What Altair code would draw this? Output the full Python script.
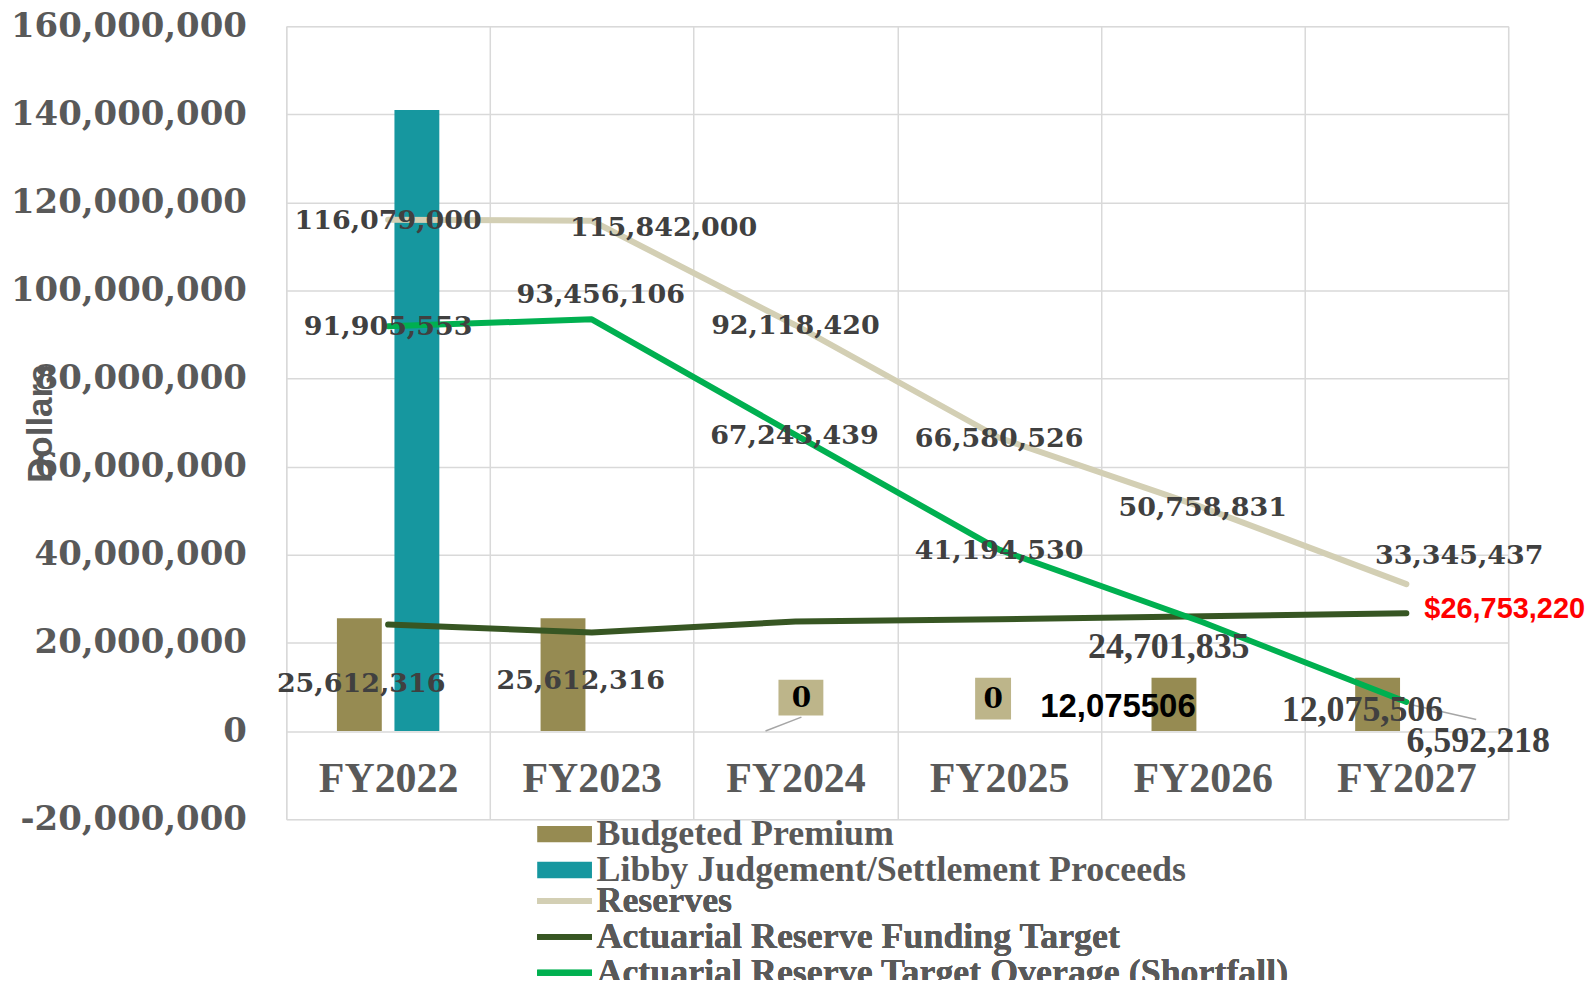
import altair as alt
import pandas as pd

years = ["FY2022", "FY2023", "FY2024", "FY2025", "FY2026", "FY2027"]
budgeted_premium = [25612316, 25612316, 0, 0, 12075506, 12075506]
libby_proceeds = [141000000, 0, 0, 0, 0, 0]
reserves = [116079000, 115842000, 92118420, 66580526, 50758831, 33345437]
funding_target = [24173447, 22385894, 24874981, 25385996, 26056996, 26753220]
overage = [91905553, 93456106, 67243439, 41194530, 24701835, 6592218]

budgeted_text = ["25,612,316", "25,612,316", "0", "0", "12,075506", "12,075,506"]
reserves_text = ["116,079,000", "115,842,000", "92,118,420", "66,580,526", "50,758,831", "33,345,437"]
overage_text = ["91,905,553", "93,456,106", "67,243,439", "41,194,530", "24,701,835", "6,592,218"]
target_text = ["", "", "", "", "", "$26,753,220"]

bar_series = ["Budgeted Premium", "Libby Judgement/Settlement Proceeds"]
line_series = ["Reserves", "Actuarial Reserve Funding Target",
               "Actuarial Reserve Target Overage (Shortfall)"]
bar_colors = ["#968B52", "#16979F"]
line_colors = ["#D3CFB4", "#375623", "#00B050"]
y_ticks = [-20000000, 0, 20000000, 40000000, 60000000, 80000000,
           100000000, 120000000, 140000000, 160000000]

rows = []
for i, yr in enumerate(years):
    rows.append(dict(year=yr, series=bar_series[0], value=budgeted_premium[i], label=budgeted_text[i]))
    rows.append(dict(year=yr, series=bar_series[1], value=libby_proceeds[i], label=""))
    rows.append(dict(year=yr, series=line_series[0], value=reserves[i], label=reserves_text[i]))
    rows.append(dict(year=yr, series=line_series[1], value=funding_target[i], label=target_text[i]))
    rows.append(dict(year=yr, series=line_series[2], value=overage[i], label=overage_text[i]))
df = pd.DataFrame(rows)

xenc = alt.X("year:N", sort=years,
             scale=alt.Scale(paddingInner=0, paddingOuter=0),
             axis=alt.Axis(title=None, labelAngle=0, domain=False, ticks=False,
                           tickBand="extent", grid=True, gridColor="#D9D9D9", gridWidth=1.5,
                           labelFont="Liberation Serif", labelFontSize=42, labelFontWeight="bold",
                           labelColor="#595959", labelBaseline="middle", labelPadding=-41))
yenc = alt.Y("value:Q",
             scale=alt.Scale(domain=[-20000000, 160000000], nice=False, zero=False),
             axis=alt.Axis(values=y_ticks, domain=False, ticks=False, grid=True,
                           gridColor="#D9D9D9", gridWidth=1.5,
                           labelExpr="replace(format(datum.value, ',.0f'), '\u2212', '-')",
                           labelFont="DejaVu Serif", labelFontSize=34, labelFontWeight="bold",
                           labelColor="#595959", labelPadding=40, labelLimit=500,
                           title="Dollars", titleFont="Liberation Sans", titleFontSize=35,
                           titleFontWeight="bold", titleColor="#595959",
                           titleX=-246, titleY=398, titleAlign="center", titleBaseline="middle"))

base = alt.Chart(df)

legend_common = dict(title=None, orient="none", legendX=261, symbolSize=900,
                     labelFont="Liberation Serif", labelFontSize=36, labelFontWeight="bold",
                     labelColor="#595959", labelLimit=2000, labelOffset=14, rowPadding=0)

bars = base.transform_filter(
    alt.FieldOneOfPredicate(field="series", oneOf=bar_series)
).mark_bar().encode(
    x=xenc, y=yenc,
    xOffset=alt.XOffset("series:N", sort=bar_series,
                        scale=alt.Scale(paddingInner=0.22, paddingOuter=0.88)),
    fill=alt.Fill("series:N", sort=bar_series,
                  scale=alt.Scale(domain=bar_series, range=bar_colors),
                  legend=alt.Legend(legendY=792, symbolType="M-1.83,-0.55H1.83V0.55H-1.83Z",
                                    symbolOpacity=1, symbolStrokeWidth=0, **legend_common)),
)

stroke_enc = alt.Stroke("series:N", sort=line_series,
                        scale=alt.Scale(domain=line_series, range=line_colors),
                        legend=alt.Legend(legendY=859, symbolType="M-1.83,0H1.83",
                                          symbolStrokeWidth=6, **legend_common))


def line_layer(name):
    return base.transform_filter(alt.datum.series == name).mark_line(
        strokeWidth=6, strokeCap="round", strokeJoin="round"
    ).encode(x=xenc, y=yenc, stroke=stroke_enc)


lines = [line_layer(s) for s in line_series]

# label background boxes and leader lines (shapes drawn around the data point)
box24 = base.transform_filter(
    (alt.datum.series == bar_series[0]) & (alt.datum.year == "FY2024")
).mark_point(shape="M-0.34,-1.03H0.56V-0.31H-0.34Z", size=10000, filled=True,
             fill="#BDB58A", opacity=1, strokeWidth=0).encode(x=xenc, y=yenc)
box25 = base.transform_filter(
    (alt.datum.series == bar_series[0]) & (alt.datum.year == "FY2025")
).mark_point(shape="M-0.48,-1.07H0.24V-0.23H-0.48Z", size=10000, filled=True,
             fill="#BDB58A", opacity=1, strokeWidth=0).encode(x=xenc, y=yenc)
leader24 = base.transform_filter(
    (alt.datum.series == bar_series[0]) & (alt.datum.year == "FY2024")
).mark_point(shape="M-0.6,0L0.12,-0.28", size=10000, filled=False,
             stroke="#A6A6A6", strokeWidth=1.5, opacity=1).encode(x=xenc, y=yenc)
leader27 = base.transform_filter(
    (alt.datum.series == line_series[2]) & (alt.datum.year == "FY2027")
).mark_point(shape="M0.08,0.05L1.4,0.35", size=10000, filled=False,
             stroke="#A6A6A6", strokeWidth=1.5, opacity=1).encode(x=xenc, y=yenc)

serif = dict(font="DejaVu Serif", fontSize=27, fontWeight="bold", color="#404040")
cond = dict(font="Liberation Serif", fontSize=36, fontWeight="bold", color="#404040")
zero_style = dict(font="DejaVu Serif", fontSize=28, fontWeight="bold", color="#000000")

label_specs = [
    # (series, year, dx, dy, style)
    (line_series[0], "FY2022", 0, 1, serif),
    (line_series[0], "FY2023", 72, 7, serif),
    (line_series[0], "FY2024", 0, 1, serif),
    (line_series[0], "FY2025", 0, 1, serif),
    (line_series[0], "FY2026", 0, 1, serif),
    (line_series[0], "FY2027", 53, -28, serif),
    (line_series[2], "FY2022", 0, 1, serif),
    (line_series[2], "FY2023", 9, -24, serif),
    (line_series[2], "FY2024", -1, 1, serif),
    (line_series[2], "FY2025", 0, 1, serif),
    (line_series[2], "FY2026", -34, 25, cond),
    (line_series[2], "FY2027", 72, 39, cond),
    (bar_series[0], "FY2022", -27, 66, serif),
    (bar_series[0], "FY2023", -11, 63, serif),
    (bar_series[0], "FY2024", 6, -32, zero_style),
    (bar_series[0], "FY2025", -6, -31, zero_style),
    (bar_series[0], "FY2026", -85, 29, dict(font="Liberation Sans", fontSize=33, fontWeight="bold", color="#000000")),
    (bar_series[0], "FY2027", -44, 32, cond),
]

labels = []
for s, yr, dx, dy, st in label_specs:
    labels.append(
        base.transform_filter((alt.datum.series == s) & (alt.datum.year == yr))
        .mark_text(dx=dx, dy=dy, align="center", baseline="middle", **st)
        .encode(x=xenc, y=yenc, text="label:N")
    )
labels.append(
    base.transform_filter((alt.datum.series == line_series[1]) & (alt.datum.year == "FY2027"))
    .mark_text(dx=18, dy=-4, align="left", baseline="middle", font="Liberation Sans",
               fontSize=29, fontWeight="bold", color="#FF0000")
    .encode(x=xenc, y=yenc, text="label:N")
)

chart = alt.layer(bars, *lines, box24, box25, leader24, leader27, *labels).resolve_scale(
    fill="independent", stroke="independent"
).properties(
    width=1225, height=795,
    autosize=alt.AutoSizeParams(type="none"),
    padding={"left": 279, "top": 17, "right": 79, "bottom": 160},
).configure_view(stroke="#D9D9D9", strokeWidth=1.5).configure(background="white")

chart.save("out.html", embed_options={"renderer": "svg", "actions": False})
